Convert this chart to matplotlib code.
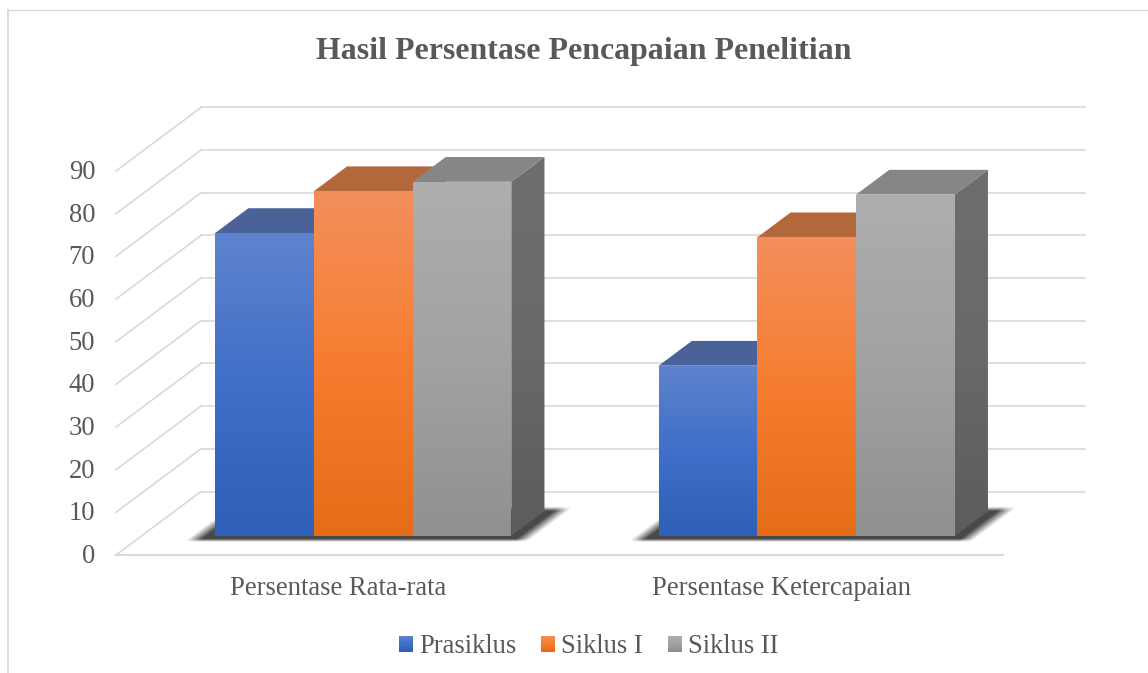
import numpy as np
import matplotlib
matplotlib.use("Agg")
import matplotlib.pyplot as plt
from matplotlib.colors import LinearSegmentedColormap
from matplotlib.legend_handler import HandlerBase
from matplotlib.lines import Line2D
from matplotlib.patches import Patch, Polygon, Rectangle
from matplotlib.transforms import ScaledTranslation

title = "Hasil Persentase Pencapaian Penelitian"
categories = ["Persentase Rata-rata", "Persentase Ketercapaian"]
series_names = ["Prasiklus", "Siklus I", "Siklus II"]
prasiklus = [71, 39.9]
siklus_1 = [80.8, 70]
siklus_2 = [83, 80]
y_ticks = list(range(0, 100, 10))

TEXT = "#595959"
GRID = "#d9d9d9"
FRONT = [["#5f83ce", "#3f6fc8", "#2e60b8"],
         ["#f38f5c", "#f67d2f", "#e56c18"],
         ["#aeaeae", "#a2a2a2", "#909090"]]
SIDE = [["#4a6299", "#3a5a9c", "#2c4a85"],
        ["#b36a3e", "#b0602c", "#a0500f"],
        ["#6e6e6e", "#696969", "#5c5c5c"]]
TOP = ["#4a6298", "#b3683c", "#868686"]

plt.rcParams["font.family"] = ["Liberation Serif", "DejaVu Serif"]
W, H = 1148, 673
fig = plt.figure(figsize=(W / 100, H / 100), dpi=100, facecolor="white")

# axes frame in pixels: front floor-left corner to the right end of the back wall
L, R, B, T = 116, 1085, 555, 106
ax = fig.add_axes([L / W, 1 - B / H, (R - L) / W, (B - T) / H])
PX_Y = 42.67 / 10          # pixels per value unit
PX_X = 887 / 2             # pixels per category
ax.set_xlim(-0.5, -0.5 + (R - L) / PX_X)
ax.set_ylim(0, (B - T) / PX_Y)
for s in ax.spines.values():
    s.set_visible(False)
ax.patch.set_alpha(0)

DX = 85 / PX_X             # shift of the full depth, category units
DY = 63.5 / PX_Y           # shift of the full depth, value units


def proj(x, v, d):
    return x + d * DX, v + d * DY


def grad_poly(pts, colors, z):
    pts = np.array(pts)
    cmap = LinearSegmentedColormap.from_list("g", colors)
    im = ax.imshow(np.linspace(1, 0, 256)[:, None], cmap=cmap, vmin=0, vmax=1,
                   origin="lower", aspect="auto", interpolation="bilinear", zorder=z,
                   extent=(pts[:, 0].min(), pts[:, 0].max(), pts[:, 1].min(), pts[:, 1].max()))
    clip = Polygon(pts, closed=True, transform=ax.transData, fc="none", ec="none")
    im.set_clip_path(clip)


def ramp(t):
    return np.clip(t, 0, 1)


def soft_shadow(left, right, z):
    """Blurred dark patch lying on the floor under one group of bars."""
    out, full = 23.5 / PX_X, 9 / PX_X
    d_out0, d_full0, d_full1, d_out1 = 0.205, 0.25, 0.69, 0.756
    xs = np.linspace(left - out, right + out + DX, 500)
    vs = np.linspace(0, DY, 160)
    xx, vv = np.meshgrid(xs, vs)
    dd = vv / DY
    uu = xx - dd * DX
    alpha = (ramp((uu - (left - out)) / (out - full))
             * ramp(((right + out) - uu) / (out - full))
             * ramp((dd - d_out0) / (d_full0 - d_out0))
             * ramp((d_out1 - dd) / (d_out1 - d_full1)))
    rgba = np.zeros(alpha.shape + (4,))
    rgba[..., :3] = 0.25
    rgba[..., 3] = alpha * 0.95
    ax.imshow(rgba, origin="lower", aspect="auto", interpolation="bilinear", zorder=z,
              extent=(xs[0], xs[-1], vs[0], vs[-1]))


# walls and grid
x0, x1 = -0.5, 1.5
BACK_END = x1 - 3 / PX_X
for v in y_ticks:
    a, b = proj(x0, v, 0), proj(x0, v, 1)
    ax.plot([a[0], b[0]], [a[1], b[1]], color=GRID, lw=1.2, clip_on=False, zorder=1)
    c = proj(BACK_END, v, 1)
    ax.plot([b[0], c[0]], [b[1], c[1]], color=GRID, lw=1.2, clip_on=False, zorder=1)
ax.plot([x0, x1], [0, 0], color=GRID, lw=1.5, clip_on=False, zorder=1)

# bars
BW = 98.7 / PX_X
D0, D1 = 0.30, 0.69
series = [prasiklus, siklus_1, siklus_2]
for i, _ in enumerate(categories):
    left = i - 1.5 * BW
    soft_shadow(left, left + 3 * BW, 2)
    for j, vals in enumerate(series):
        v = vals[i]
        a = left + j * BW
        b = a + BW
        z = 3 + j
        grad_poly([proj(a, 0, D0), proj(b, 0, D0), proj(b, v, D0), proj(a, v, D0)], FRONT[j], z + 0.3)
        grad_poly([proj(b, 0, D0), proj(b, 0, D1), proj(b, v, D1), proj(b, v, D0)], SIDE[j], z + 0.1)
        ax.add_patch(Polygon([proj(a, v, D0), proj(b, v, D0), proj(b, v, D1), proj(a, v, D1)],
                             closed=True, fc=TOP[j], ec="none", zorder=z + 0.2))

ax.set_xticks(range(len(categories)))
ax.set_xticklabels(categories)
ax.set_yticks(y_ticks)
ax.set_yticklabels([str(t) for t in y_ticks])
ax.tick_params(axis="x", length=0, pad=14.8, labelsize=19.15, labelcolor=TEXT)
ax.tick_params(axis="y", length=0, pad=15, labelsize=19.15, labelcolor=TEXT)
lift = ScaledTranslation(0, 1.5 / 100, fig.dpi_scale_trans)
for lab in ax.get_yticklabels():
    lab.set_transform(lab.get_transform() + lift)

fig.text(584 / W, 1 - 52 / H, title, ha="center", va="center", fontsize=22.95,
         fontweight="bold", color=TEXT)


class GradHandler(HandlerBase):
    def __init__(self, colors):
        super().__init__()
        self.colors = colors

    def create_artists(self, legend, orig, xd, yd, width, height, fontsize, trans):
        cmap = LinearSegmentedColormap.from_list("g", self.colors)
        n = 14
        out = []
        for k in range(n):
            out.append(Rectangle((-xd, -yd + height * k / n), width, height / n * 1.05,
                                 fc=cmap(1 - k / (n - 1)), ec="none", transform=trans))
        return out


handles = [Patch(label=n) for n in series_names]
fig.legend(handles, series_names, loc="center", bbox_to_anchor=(588.5 / W, 1 - 646.5 / H),
           ncol=3, frameon=False, fontsize=19.1, labelcolor=TEXT, borderpad=0, borderaxespad=0,
           handlelength=0.54, handleheight=0.54, handletextpad=0.22, columnspacing=0.93,
           handler_map={h: GradHandler(c) for h, c in zip(handles, FRONT)})

# outer frame (only its top and left edges are inside the picture)
fig.add_artist(Line2D([8 / W, 8 / W], [0, 1 - 10 / H], color=GRID, lw=1.3))
fig.add_artist(Line2D([8 / W, 1], [1 - 10 / H, 1 - 10 / H], color=GRID, lw=1.0))

fig.savefig("out.png", dpi=100)
